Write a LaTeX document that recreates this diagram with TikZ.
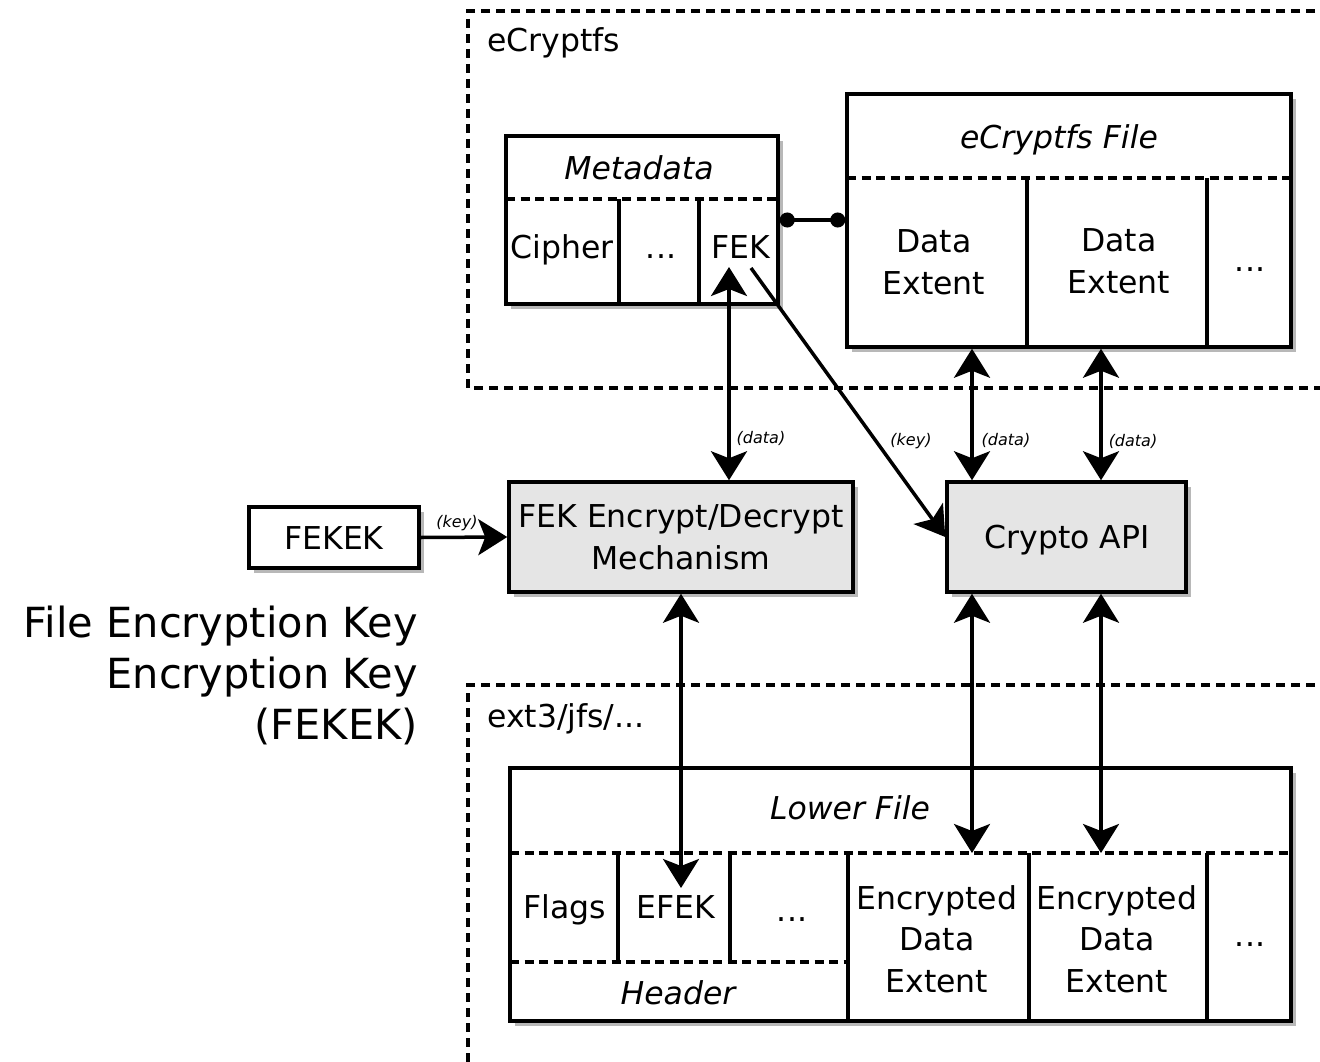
\documentclass[tikz,border=0pt]{standalone}
\usepackage{fontspec}
\setmainfont{DejaVu Sans}
\usetikzlibrary{arrows.meta,shadows}
\definecolor{boxgray}{HTML}{E5E5E5}
\begin{document}
\begin{tikzpicture}[x=1pt,y=-1pt,
  >={Stealth[length=29pt,width=36pt,inset=7pt]},
  shd/.style={drop shadow={shadow xshift=5pt,shadow yshift=-5pt,fill=black!28,opacity=1}},
  box/.style={draw,line width=3.5pt,fill=white,inner sep=0pt,shd},
  graybox/.style={box,fill=boxgray},
  region/.style={line width=3.5pt,dash pattern=on 9pt off 6pt},
  sep/.style={line width=3.5pt,dash pattern=on 9pt off 5.5pt},
  divider/.style={line width=3.5pt},
  conn/.style={line width=3.5pt},
  txt/.style={inner sep=0pt,font=\fontsize{31.5pt}{41.5pt}\selectfont,text height=23pt,text depth=0pt},
  mtxt/.style={inner sep=0pt,font=\fontsize{31.5pt}{41.5pt}\selectfont,align=center},
  itxt/.style={txt,font=\fontsize{31.5pt}{41.5pt}\selectfont\itshape},
  small/.style={inner sep=0pt,font=\fontsize{16pt}{19pt}\selectfont\itshape}
]
\useasboundingbox (0,0) rectangle (1320,1062);
\fill[white] (0,0) rectangle (1320,1062);

% regions
\draw[region] (1330,11) -- (468,11) -- (468,388) -- (1330,388);
\draw[region] (1330,685) -- (468,685) -- (468,1075);
\node[inner sep=0pt,anchor=base west,font=\fontsize{31.5pt}{41.5pt}\selectfont] (ecl) at (487,52) {eCryptfs};
\node[inner sep=0pt,anchor=base west,font=\fontsize{31.5pt}{41.5pt}\selectfont] (extl) at (487,727) {ext3/jfs/...};

% Metadata box
\node[box,minimum width=272pt,minimum height=168pt] (meta) at (642,220) {};
\draw[sep] (506,199) -- (778,199);
\draw[divider] (619,199) -- (619,304);
\draw[divider] (699,199) -- (699,304);
\node[itxt] (metat) at (639,168) {Metadata};
\node[txt] (cipher) at (562,247) {Cipher};
\node[txt] (mdots) at (661,247) {...};
\node[txt] (fek) at (741,247) {FEK};
\coordinate (fekin) at (729,267);
\coordinate (fekout) at (751,268);

% eCryptfs File box
\node[box,minimum width=444pt,minimum height=253pt] (efile) at (1069,220.5) {};
\draw[sep] (847,178) -- (1291,178);
\draw[divider] (1027,178) -- (1027,347);
\draw[divider] (1207,178) -- (1207,347);
\node[itxt] (efilet) at (1059,137) {eCryptfs File};
\node[mtxt] (de1) at (934,262) {Data\\Extent};
\node[mtxt] (de2) at (1119,261) {Data\\Extent};
\node[txt] (edots) at (1250,260) {...};
\coordinate (c1) at (972,0);
\coordinate (c2) at (1101,0);

% connector metadata - file
\draw[conn,{Circle[length=15pt]}-{Circle[length=15pt]}] (meta.east) -- (efile.west |- meta.east);

% middle boxes
\node[box,minimum width=170pt,minimum height=61pt] (fekek) at (334,537.5) {};
\node[txt] (fekekt) at (334,538) {FEKEK};
\node[graybox,minimum width=344pt,minimum height=110pt] (fekenc) at (681,537) {};
\node[mtxt] (fekenct) at (681,537) {FEK Encrypt/Decrypt\\Mechanism};
\node[graybox,minimum width=239pt,minimum height=110pt] (crypto) at (1066.5,537) {};
\node[txt] (cryptot) at (1067,537) {Crypto API};

% left explanation
\node[inner sep=0pt,align=right,anchor=east,font=\fontsize{41.5pt}{51pt}\selectfont] (expl) at (418,675) {File Encryption Key\\Encryption Key\\(FEKEK)};

% Lower file
\node[box,minimum width=781pt,minimum height=253pt] (lower) at (900.5,894.5) {};
\draw[sep] (510,853) -- (1291,853);
\draw[sep] (510,962) -- (848,962);
\draw[divider] (848,853) -- (848,1021);
\draw[divider] (1029,853) -- (1029,1021);
\draw[divider] (1207,853) -- (1207,1021);
\draw[divider] (618,853) -- (618,962);
\draw[divider] (730,853) -- (730,962);
\node[itxt] (lowert) at (850,808) {Lower File};
\node[txt] (flags) at (565,907) {Flags};
\node[txt] (efek) at (676,907) {EFEK};
\node[txt] (hdots) at (792,910) {...};
\node[itxt] (header) at (678,993) {Header};
\node[mtxt] (ede1) at (937,939) {Encrypted\\Data\\Extent};
\node[mtxt] (ede2) at (1117,939) {Encrypted\\Data\\Extent};
\node[txt] (ldots) at (1250,935) {...};
\coordinate (lsep) at (0,853);
\coordinate (efekin) at (681,888);

% connectors
\draw[conn,<->] (fekin) -- (fekin |- fekenc.north);
\draw[conn,->] (fekout) -- (crypto.west);
\draw[conn,->] (fekek.east) -- (fekenc.west);
\draw[conn,<->] (c1 |- efile.south) -- (c1 |- crypto.north);
\draw[conn,<->] (c2 |- efile.south) -- (c2 |- crypto.north);
\draw[conn,<->] (c1 |- crypto.south) -- (c1 |- lsep);
\draw[conn,<->] (c2 |- crypto.south) -- (c2 |- lsep);
\draw[conn,<->] (fekenc.south) -- (efekin);

% small labels
\node[small] (l1) at (761,438) {(data)};
\node[small] (l2) at (911,441) {(key)};
\node[small] (l3) at (1006,440) {(data)};
\node[small] (l4) at (1133,441) {(data)};
\node[small] (l5) at (457,523) {(key)};
\end{tikzpicture}
\end{document}
